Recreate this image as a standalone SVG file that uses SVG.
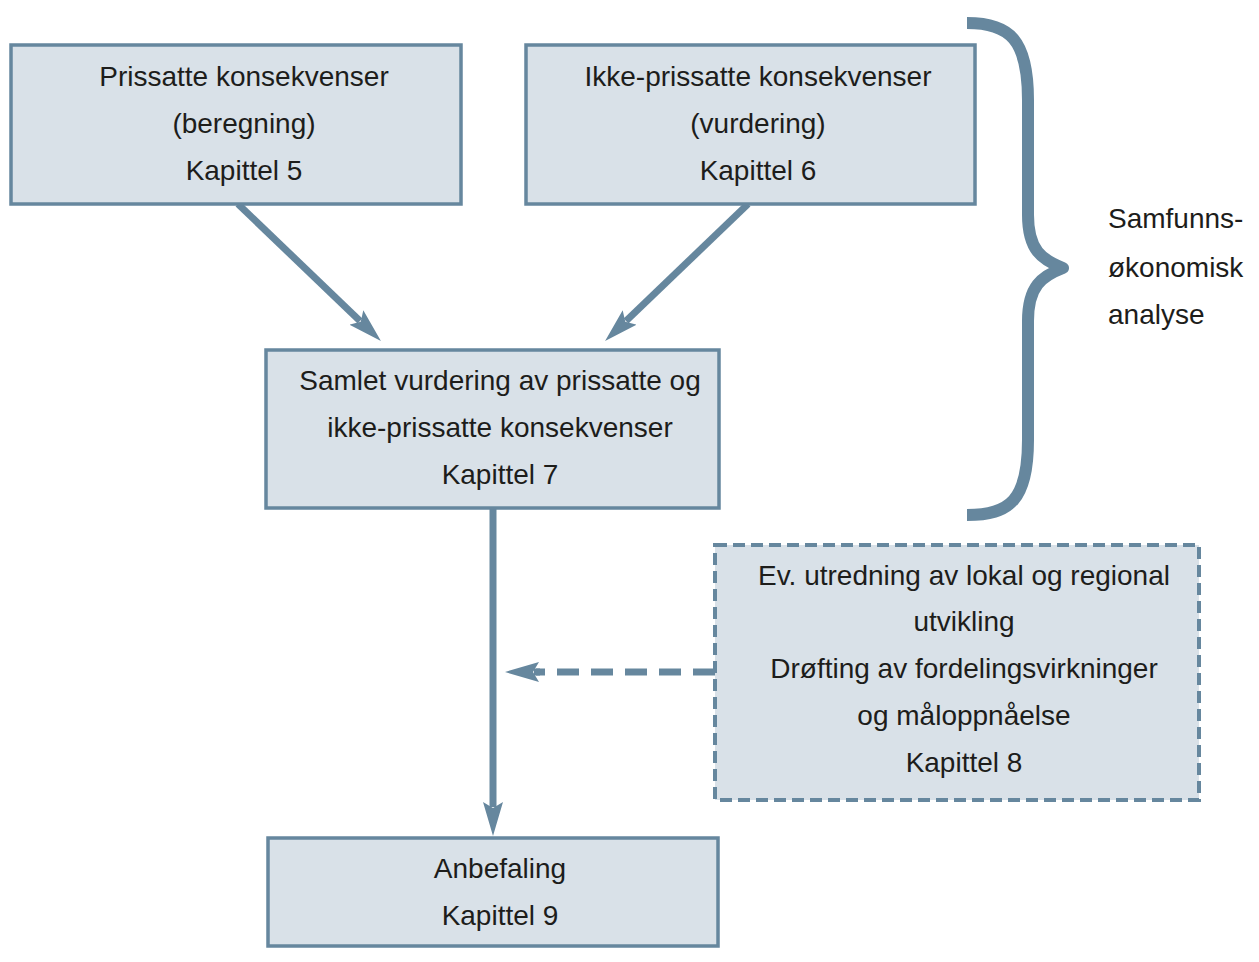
<svg xmlns="http://www.w3.org/2000/svg" width="1259" height="962" viewBox="0 0 1259 962">
<style>
.box{fill:#d9e1e8;stroke:#66879e;stroke-width:3.5}
.dbox{fill:#d9e1e8;stroke:#66879e;stroke-width:4;stroke-dasharray:12 6}
.t{font-family:"Liberation Sans",Arial,sans-serif;font-size:28px;fill:#1d1d1b;text-anchor:middle}
.s{font-family:"Liberation Sans",Arial,sans-serif;font-size:28px;fill:#1d1d1b}
.ln{stroke:#66879e;stroke-width:7;fill:none}
</style>
<defs>
<marker id="ah" viewBox="0 0 34 20" refX="5" refY="10" markerWidth="34" markerHeight="20" markerUnits="userSpaceOnUse" orient="auto">
<path d="M0,0 L34,10 L0,20 L6,10 Z" fill="#66879e"/>
</marker>
</defs>
<rect width="1259" height="962" fill="#fff"/>
<g id="connectors">
<line class="ln" x1="238" y1="204" x2="360" y2="321" marker-end="url(#ah)"/>
<line class="ln" x1="748" y1="204" x2="626" y2="321" marker-end="url(#ah)"/>
<line class="ln" x1="493" y1="508" x2="493" y2="807" marker-end="url(#ah)"/>
<line class="ln" x1="715" y1="672" x2="536" y2="672" stroke-width="8" stroke-dasharray="22 12"/>
<line class="ln" x1="540" y1="672" x2="534" y2="672" stroke-width="8" marker-end="url(#ah)"/>
</g>
<g id="n1">
<rect class="box" x="11" y="45" width="450" height="159"/>
<text class="t" x="244" y="86">Prissatte konsekvenser</text>
<text class="t" x="244" y="133">(beregning)</text>
<text class="t" x="244" y="180">Kapittel 5</text>
</g>
<g id="n2">
<rect class="box" x="526" y="45" width="449" height="159"/>
<text class="t" x="758" y="86">Ikke-prissatte konsekvenser</text>
<text class="t" x="758" y="133">(vurdering)</text>
<text class="t" x="758" y="180">Kapittel 6</text>
</g>
<g id="n3">
<rect class="box" x="266" y="350" width="453" height="158"/>
<text class="t" x="500" y="390">Samlet vurdering av prissatte og</text>
<text class="t" x="500" y="437">ikke-prissatte konsekvenser</text>
<text class="t" x="500" y="484">Kapittel 7</text>
</g>
<g id="n4">
<rect class="dbox" x="715" y="545" width="484" height="255"/>
<text class="t" x="964" y="585">Ev. utredning av lokal og regional</text>
<text class="t" x="964" y="631">utvikling</text>
<text class="t" x="964" y="678">Drøfting av fordelingsvirkninger</text>
<text class="t" x="964" y="725">og måloppnåelse</text>
<text class="t" x="964" y="772">Kapittel 8</text>
</g>
<g id="n5">
<rect class="box" x="268" y="838" width="450" height="108"/>
<text class="t" x="500" y="878">Anbefaling</text>
<text class="t" x="500" y="925">Kapittel 9</text>
</g>
<g id="brace">
<path d="M967,23 C1010,23 1028,40 1028,100 L1028,215 C1028,250 1042,260 1063,268 C1042,276 1028,286 1028,321 L1028,440 C1028,500 1010,515 967,515" fill="none" stroke="#66879e" stroke-width="12" stroke-linejoin="round"/>
<text class="s" x="1108" y="228">Samfunns-</text>
<text class="s" x="1108" y="277">økonomisk</text>
<text class="s" x="1108" y="324">analyse</text>
</g>
</svg>
